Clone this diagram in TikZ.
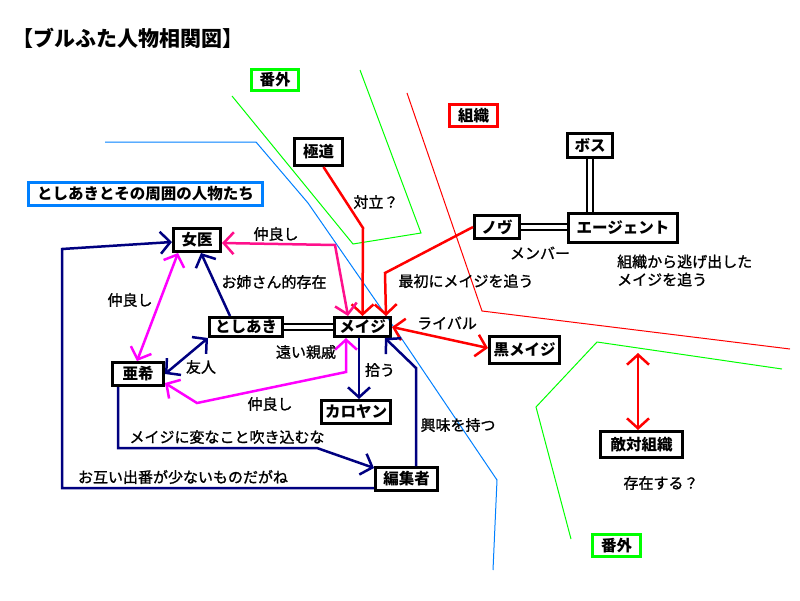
\documentclass[tikz,border=0pt]{standalone}
\usepackage{fontspec}
\setmainfont{Noto Sans CJK JP}
\newfontface\lblfont{Noto Sans CJK JP}[FakeBold=1.2]
\usetikzlibrary{arrows.meta,calc}
\definecolor{navy}{RGB}{0,0,128}
\definecolor{dpink}{RGB}{255,16,140}
\definecolor{mag}{RGB}{255,0,255}
\definecolor{sky}{RGB}{0,128,255}
\definecolor{lime}{RGB}{0,255,0}
\begin{document}
\begin{tikzpicture}[x=1pt,y=-1pt,
  box/.style={draw,line width=3pt,inner sep=0pt,font=\fontsize{15.5}{18}\selectfont\bfseries},
  lbl/.style={font=\fontsize{15}{18}\selectfont\lblfont,inner sep=0pt},
  region/.style={line width=1pt},
  conn/.style={line width=2.5pt},
  onehead/.style={-{Straight Barb[length=10pt,width=22pt]}},
  twohead/.style={{Straight Barb[length=10pt,width=22pt]}-{Straight Barb[length=10pt,width=22pt]}},
  dbl/.style={double,double distance=3.5pt,line width=2.5pt}
]
\useasboundingbox[fill=white] (0,0) rectangle (800,600);

% region lines
\draw[region,sky] (105,142) -- (256,142) -- (308,203) -- (387,317) -- (497,480) -- (493,570);
\draw[region,lime] (232,96) -- (353,244) -- (421,233) -- (360,70);
\draw[region,red] (407,93) -- (482,311) -- (790,349);
\draw[region,lime] (782,369) -- (597,342) -- (536,407) -- (571,539);

% title
\node[font=\fontsize{21}{24}\selectfont\bfseries,inner sep=0pt] (title) at (128,38) {【ブルふた人物相関図】};

% boxes
\node[box,draw=lime,minimum width=47pt,minimum height=21pt] (bangai1) at (275,80) {番外};
\node[box,minimum width=48pt,minimum height=27pt] (gokudo) at (318.5,152) {極道};
\node[box,draw=sky,minimum width=234pt,minimum height=23pt] (shuui) at (145.5,193.5) {としあきとその周囲の人物たち};
\node[box,draw=red,minimum width=48pt,minimum height=22pt] (soshiki) at (473.5,115.5) {組織};
\node[box,minimum width=45pt,minimum height=24pt] (boss) at (590,145.5) {ボス};
\node[box,minimum width=109pt,minimum height=29pt] (agent) at (623,228) {エージェント};
\node[box,minimum width=45pt,minimum height=23pt] (nov) at (497,227) {ノヴ};
\node[box,minimum width=47pt,minimum height=23pt] (jo) at (197,240) {女医};
\node[box,minimum width=73pt,minimum height=19pt] (toshi) at (246,327) {としあき};
\node[box,minimum width=56pt,minimum height=19pt] (meiji) at (362.5,327) {メイジ};
\node[box,minimum width=51pt,minimum height=23pt] (aki) at (138,374) {亜希};
\node[box,minimum width=69pt,minimum height=23pt] (karo) at (356,412) {カロヤン};
\node[box,minimum width=70pt,minimum height=27pt] (kuro) at (524.5,350) {黒メイジ};
\node[box,minimum width=62pt,minimum height=23pt] (hen) at (406.5,479) {編集者};
\node[box,minimum width=82pt,minimum height=26pt] (teki) at (641.5,444.5) {敵対組織};
\node[box,draw=lime,minimum width=48pt,minimum height=22pt] (bangai2) at (616.5,545.5) {番外};

% double lines
\draw[dbl] (boss.south) -- (boss.south |- agent.north);
\draw[dbl] (nov.east) -- (nov.east -| agent.west);
\draw[dbl] (toshi.east) -- (meiji.west);

% red connectors
\draw[conn,red,onehead] ($(gokudo.south)+(5,0)$) -- (363,228) -- (meiji.north);
\draw[conn,red,onehead] (nov.west) -- (385,273) -- ($(meiji.north east)+(-6,0)$);
\draw[conn,red,twohead] (meiji.east) -- ($(kuro.west)+(0,-2)$);
\coordinate (redtop) at (638,353);
\draw[conn,red,twohead] (redtop) -- (redtop |- teki.north);

% navy connectors
\draw[conn,navy,onehead] ($(toshi.north)+(-16,0)$) -- ($(jo.south)+(4,0)$);
\draw[conn,navy,twohead] (toshi.south west) -- (aki.east);
\draw[conn,navy,onehead] ($(meiji.south)+(-3.5,0)$) -- ($(karo.north)+(3,0)$);
\draw[conn,navy,onehead] ($(hen.north)+(9.5,0)$) -- (416,368) -- ($(meiji.south east)+(-7,0)$);
\draw[conn,navy,onehead] ($(aki.south)+(-20,0)$) -- (118,448) -- (317,448) -- ($(hen.north west)+(0,2)$);
\draw[conn,navy,onehead] ($(hen.west)+(0,9)$) -- (62,488) -- (62,249) -- ($(jo.west)+(0,2)$);

% pink connectors
\draw[conn,dpink,twohead] ($(jo.east)+(0,3)$) -- (335,245) -- ($(meiji.north west)+(15,0)$);
\draw[conn,mag,twohead] ($(jo.south)+(-19,0)$) -- ($(aki.north)+(-1,0)$);
\draw[conn,mag,twohead] ($(aki.east)+(0,9)$) -- (197,403) -- (346,372) -- ($(meiji.south west)+(13,0)$);

% labels
\node[lbl] (l1) at (276,234) {仲良し};
\node[lbl] (l2) at (130,300) {仲良し};
\node[lbl] (l3) at (270,404) {仲良し};
\node[lbl] (l4) at (274,282) {お姉さん的存在};
\node[lbl] (l5) at (306,352) {遠い親戚};
\node[lbl] (l6) at (201,367) {友人};
\node[lbl] (l7) at (380,370) {拾う};
\node[lbl] (l8) at (458,425) {興味を持つ};
\node[lbl] (l9) at (227,437) {メイジに変なこと吹き込むな};
\node[lbl] (l10) at (183,477) {お互い出番が少ないものだがね};
\node[lbl] (l11) at (376,202) {対立？};
\node[lbl] (l12) at (466,281) {最初にメイジを追う};
\node[lbl] (l13) at (447,323) {ライバル};
\node[lbl] (l14) at (540,253) {メンバー};
\node[lbl,anchor=west,align=left] (l15) at (617,270.5) {組織から逃げ出した\\メイジを追う};
\node[lbl] (l16) at (661,483) {存在する？};
\end{tikzpicture}
\end{document}
